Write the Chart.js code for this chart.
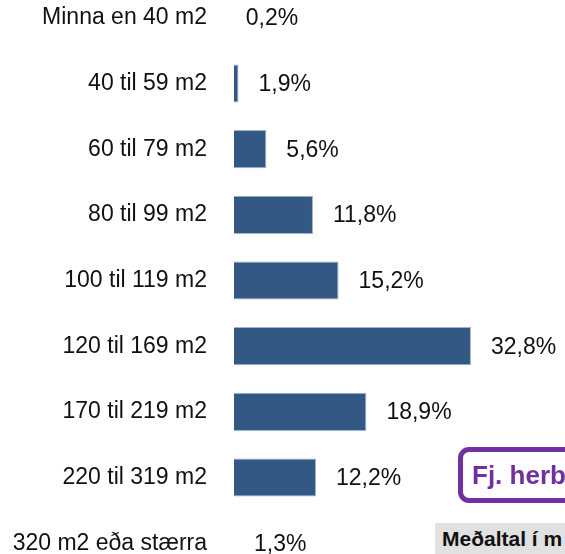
<!DOCTYPE html>
<html lang="is">
<head>
  <meta charset="UTF-8">
  <title>Stærð íbúða</title>
  <script src="https://cdn.jsdelivr.net/npm/chart.js"></script>
  <style>
    html, body {
      margin: 0;
      padding: 0;
      background: #fff;
      overflow: hidden;
      width: 565px;
      height: 554px;
    }
    .chart-box {
      position: absolute;
      left: 0;
      top: -15px;
      width: 565px;
      height: 591px;
    }
    .herb-box {
      position: absolute;
      left: 458px;
      top: 447px;
      width: 160px;
      height: 46px;
      border: 5px solid #7030a0;
      border-radius: 11px;
      color: #7030a0;
      font: bold 26px "Liberation Sans", Arial, sans-serif;
      line-height: 46px;
      padding-left: 9px;
      white-space: nowrap;
    }
    .avg-box {
      position: absolute;
      left: 435px;
      top: 523px;
      width: 160px;
      height: 40px;
      background: #e1e1e1;
      color: #111;
      font: bold 21px "Liberation Sans", Arial, sans-serif;
      line-height: 32px;
      padding-left: 7px;
      white-space: nowrap;
    }
  </style>
</head>
<body>
<div class="chart-box">
  <canvas id="sizeChart"></canvas>
</div>
<div class="herb-box">Fj. herb</div>
<div class="avg-box">Meðaltal í m</div>
<script>
    // flokkar (stærð íbúðar)
    const categories = ["Minna en 40 m2", "40 til 59 m2", "60 til 79 m2", "80 til 99 m2", "100 til 119 m2",
        "120 til 169 m2", "170 til 219 m2", "220 til 319 m2", "320 m2 eða stærra"];

    // hlutfall í %
    const shares = [0.2, 1.9, 5.6, 11.8, 15.2, 32.8, 18.9, 12.2, 1.3];

    // texti við hverja súlu
    const shareLabels = ["0,2%", "1,9%", "5,6%", "11,8%", "15,2%", "32,8%", "18,9%", "12,2%", "1,3%"];

    const labelFont = '23px "Liberation Sans", Arial, sans-serif';

    // teikna prósentur hægra megin við súlurnar
    const valueLabels = {
        id: 'valueLabels',
        afterDatasetsDraw(chart) {
            const ctx = chart.ctx;
            const xScale = chart.scales.x;
            const meta = chart.getDatasetMeta(0);
            ctx.save();
            ctx.font = labelFont;
            ctx.fillStyle = '#111';
            ctx.textAlign = 'left';
            ctx.textBaseline = 'middle';
            meta.data.forEach((bar, i) => {
                const x = xScale.getPixelForValue(shares[i]) + 20;
                ctx.fillText(shareLabels[i], x, bar.y + 1);
            });
            ctx.restore();
        }
    };

    const ctx = document.getElementById('sizeChart').getContext('2d');
    const chart = new Chart(ctx, {
        type: 'bar',
        data: {
            labels: categories,
            datasets: [{
                data: shares,
                backgroundColor: '#345884',
                borderColor: 'rgba(150,172,200,0.9)',
                borderWidth: 1,
                borderSkipped: false,
                categoryPercentage: 0.58,
                barPercentage: 1,
                clip: 0
            }]
        },
        options: {
            indexAxis: 'y',
            responsive: true,
            maintainAspectRatio: false,
            animation: false,
            layout: { padding: 0 },
            plugins: {
                legend: { display: false },
                tooltip: { enabled: false }
            },
            scales: {
                x: {
                    display: false,
                    min: 1.3,
                    max: 45.3
                },
                y: {
                    grid: { display: false, drawTicks: false },
                    border: { display: false },
                    ticks: {
                        padding: 27,
                        color: '#111',
                        font: { family: '"Liberation Sans", Arial, sans-serif', size: 23 }
                    },
                    afterFit(scale) {
                        scale.width = 234;
                        scale.paddingTop = 0;
                        scale.paddingBottom = 0;
                    }
                }
            }
        },
        plugins: [valueLabels]
    });
</script>
</body>
</html>
